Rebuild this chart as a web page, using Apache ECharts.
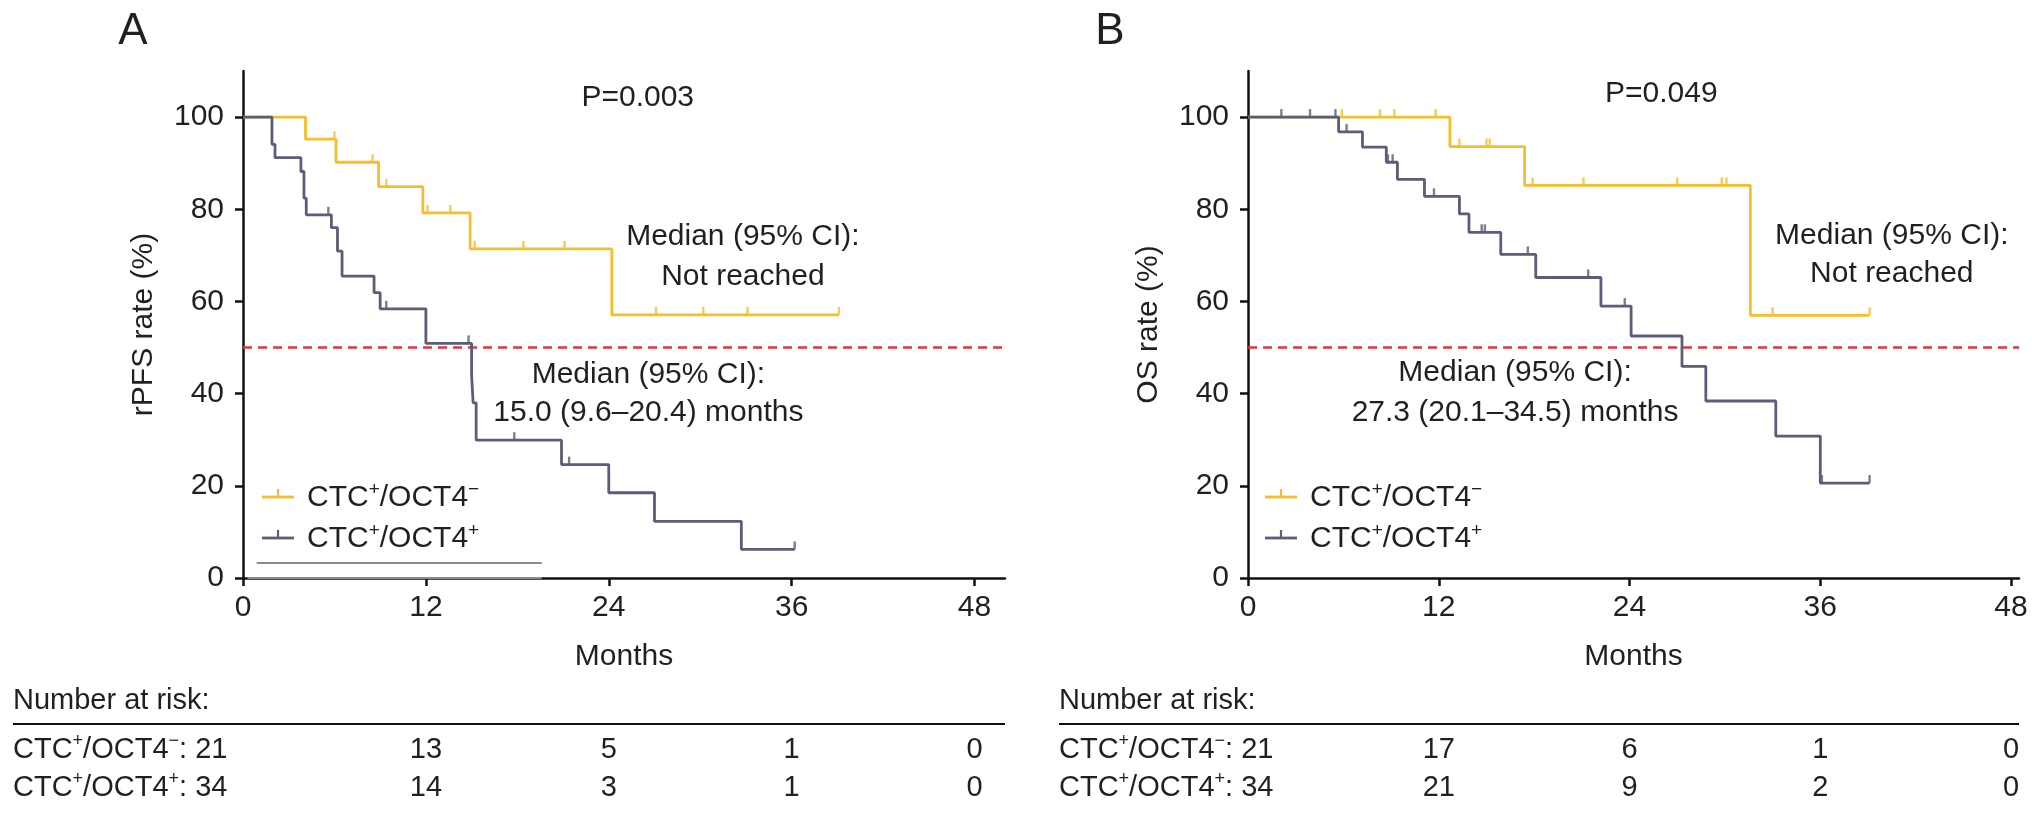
<!DOCTYPE html>
<html><head><meta charset="utf-8">
<script src="https://cdn.jsdelivr.net/npm/echarts@6/dist/echarts.min.js"></script>
<style>html,body{margin:0;padding:0;background:#fff}#c{width:2032px;height:819px}</style>
</head><body><div id="c"></div>
<script>
// ---- data ----
const monthTicks = [0, 12, 24, 36, 48];
const rateTicks = [0, 20, 40, 60, 80, 100];
const groupNames = ['CTC+/OCT4−', 'CTC+/OCT4+'];
// Panel A: rPFS  (time in months, survival % after event)
const pfsNegSteps = [[0,100],[4.1,95.2],[6.1,90.2],[8.9,84.9],[11.8,79.2],[14.9,71.4],[24.2,57.1],[39.1,57.1]];
const pfsNegCensor = [[6.0,95.2],[8.5,90.2],[9.4,84.9],[12.1,79.2],[13.6,79.2],[15.2,71.4],[18.4,71.4],[21.1,71.4],[27.1,57.1],[30.2,57.1],[33.1,57.1],[39.1,57.1]];
const pfsPosSteps = [[0,100],[1.9,94.1],[2.1,91.2],[3.8,88.2],[4.0,82.4],[4.15,78.8],[5.8,76.0],[6.2,70.9],[6.5,65.5],[8.6,61.9],[9.0,58.4],[12.0,50.9],[15.0,44.0],[15.1,38.0],[15.3,29.9],[20.9,24.6],[24.0,18.5],[27.0,12.3],[32.7,6.2],[36.2,6.2]];
const pfsPosCensor = [[5.6,78.8],[9.4,58.4],[14.8,50.9],[17.8,29.9],[21.4,24.6],[36.2,6.2]];
// Panel B: OS
const osNegSteps = [[0,100],[12.7,93.6],[17.4,85.2],[31.6,57.0],[39.1,57.0]];
const osNegCensor = [[5.9,100],[8.3,100],[9.2,100],[11.8,100],[13.3,93.6],[15.0,93.6],[15.2,93.6],[17.9,85.2],[21.1,85.2],[27.0,85.2],[29.8,85.2],[30.1,85.2],[33.0,57.0],[39.1,57.0]];
const osPosSteps = [[0,100],[5.7,96.8],[7.2,93.5],[8.7,90.2],[9.4,86.5],[11.1,82.8],[13.3,79.0],[13.9,75.0],[15.9,70.2],[18.1,65.2],[22.2,59.0],[24.1,52.5],[27.3,45.9],[28.8,38.4],[33.2,30.8],[36.0,20.6],[39.1,20.6]];
const osPosCensor = [[2.1,100],[3.9,100],[5.5,100],[6.2,96.8],[8.8,90.2],[9.1,90.2],[11.7,82.8],[14.7,75.0],[14.9,75.0],[17.6,70.2],[21.4,65.2],[23.7,59.0],[36.1,20.6],[39.1,20.6]];
// Number at risk
const riskNegA = [21, 13, 5, 1, 0];
const riskPosA = [34, 14, 3, 1, 0];
const riskNegB = [21, 17, 6, 1, 0];
const riskPosB = [34, 21, 9, 2, 0];
const medianLine = 50;

// ---- style ----
const FONT = '"Liberation Sans", Arial, Helvetica, sans-serif';
const YEL = '#F6BE2C', GRY = '#5A5E78', RED = '#E8333A', TXT = '#231f20';
const FS = 30, TFS = 29;

const chart = echarts.init(document.getElementById('c'));

function xAx(idx, max) {
  return {
    type: 'value', gridIndex: idx, min: 0, max: max,
    name: 'Months', nameLocation: 'middle', nameGap: 64,
    nameTextStyle: {fontFamily: FONT, fontSize: FS, color: TXT},
    axisLine: {lineStyle: {color: '#111', width: 2.5}},
    axisTick: {show: true, length: 8, lineStyle: {color: '#111', width: 2.5}, customValues: monthTicks},
    axisLabel: {fontFamily: FONT, fontSize: FS, color: TXT, margin: 15, customValues: monthTicks},
    splitLine: {show: false}
  };
}
function yAx(idx, name, gap) {
  return {
    type: 'value', gridIndex: idx, min: 0, max: 110,
    name: name, nameLocation: 'middle', nameGap: gap, nameRotate: 90,
    nameTextStyle: {fontFamily: FONT, fontSize: FS, color: TXT},
    axisLine: {show: true, lineStyle: {color: '#111', width: 2.5}},
    axisTick: {show: true, length: 8, lineStyle: {color: '#111', width: 2.5}, customValues: rateTicks},
    axisLabel: {fontFamily: FONT, fontSize: FS, color: TXT, margin: 19, customValues: rateTicks},
    splitLine: {show: false}
  };
}
function stepSeries(idx, data, color, extra) {
  return Object.assign({
    type: 'line', xAxisIndex: idx, yAxisIndex: idx, data: data, step: 'end',
    showSymbol: false, symbol: 'none', lineStyle: {color: color, width: 2.8}, z: 5, silent: true
  }, extra || {});
}
function censorSeries(idx, data, color) {
  return {
    type: 'scatter', xAxisIndex: idx, yAxisIndex: idx, data: data,
    symbol: 'rect', symbolSize: [2.4, 8], symbolOffset: [0, -4],
    itemStyle: {color: color}, z: 6, silent: true
  };
}
function medianMark() {
  return {
    symbol: 'none', silent: true, label: {show: false},
    lineStyle: {color: RED, type: [9, 6], width: 2.6},
    data: [{yAxis: medianLine}]
  };
}

const option = {
  animation: false,
  backgroundColor: '#fff',
  grid: [
    {left: 243, top: 71, width: 762, height: 507},
    {left: 1248, top: 71, width: 771, height: 507}
  ],
  xAxis: [xAx(0, 50), xAx(1, 48.5)],
  yAxis: [yAx(0, 'rPFS rate (%)', 84), yAx(1, 'OS rate (%)', 84)],
  series: [
    stepSeries(0, pfsNegSteps, YEL, {markLine: medianMark()}),
    stepSeries(0, pfsPosSteps, GRY, {markLine: {
      symbol: 'none', silent: true, label: {show: false},
      lineStyle: {color: '#8a8a8a', type: 'solid', width: 2},
      data: [[{coord: [0.9, 3.3]}, {coord: [19.6, 3.3]}], [{coord: [0.3, 0]}, {coord: [19.6, 0]}]]
    }}),
    censorSeries(0, pfsNegCensor, YEL),
    censorSeries(0, pfsPosCensor, GRY),
    stepSeries(1, osNegSteps, YEL, {markLine: medianMark()}),
    stepSeries(1, osPosSteps, GRY),
    censorSeries(1, osNegCensor, YEL),
    censorSeries(1, osPosCensor, GRY)
  ]
};
chart.setOption(option);

// ---- annotations positioned through the chart's own scales ----
function px(g, x, y) { return chart.convertToPixel({gridIndex: g}, [x, y]); }
function richFor(size) {
  return {
    n: {fontSize: size, fontFamily: FONT, fill: TXT, lineHeight: size + 6},
    s: {fontSize: Math.round(size * 0.62), fontFamily: FONT, fill: TXT, lineHeight: Math.round(size * 0.62), verticalAlign: 'top'}
  };
}
function groupRich(i) {
  return i === 0 ? '{n|CTC}{s|+}{n|/OCT4}{s|−}' : '{n|CTC}{s|+}{n|/OCT4}{s|+}';
}
const els = [];
function txt(x, y, s, align, size) {
  els.push({type: 'text', x: x, y: y, silent: true,
    style: {text: s, fontFamily: FONT, fontSize: size || FS, fill: TXT, align: align || 'center', verticalAlign: 'middle'}});
}
function dataTxt(g, mx, my, s) { const p = px(g, mx, my); txt(p[0], p[1], s, 'center'); }

// panel letters
txt(133, 32, 'A', 'center', 44);
txt(1110, 32, 'B', 'center', 44);
// A texts
dataTxt(0, 25.9, 104.3, 'P=0.003');
dataTxt(0, 32.8, 74.0, 'Median (95% CI):');
dataTxt(0, 32.8, 65.3, 'Not reached');
dataTxt(0, 26.6, 44.0, 'Median (95% CI):');
dataTxt(0, 26.6, 35.8, '15.0 (9.6–20.4) months');
// B texts
dataTxt(1, 26.0, 105.0, 'P=0.049');
dataTxt(1, 40.5, 74.3, 'Median (95% CI):');
dataTxt(1, 40.5, 66.0, 'Not reached');
dataTxt(1, 16.8, 44.5, 'Median (95% CI):');
dataTxt(1, 16.8, 35.9, '27.3 (20.1–34.5) months');

// legends
function legend(lx, ly) {
  [YEL, GRY].forEach(function (c, i) {
    const y = ly + i * 41;
    els.push({type: 'line', silent: true, shape: {x1: lx, y1: y, x2: lx + 32, y2: y}, style: {stroke: c, lineWidth: 2.8}});
    els.push({type: 'line', silent: true, shape: {x1: lx + 16, y1: y, x2: lx + 16, y2: y - 8}, style: {stroke: c, lineWidth: 2.2}});
    els.push({type: 'text', x: lx + 45, y: y + 1, silent: true,
      style: {text: groupRich(i), rich: richFor(FS), verticalAlign: 'middle', align: 'left'}});
  });
}
legend(262, 497);
legend(1265, 497);

// risk tables
function riskTable(g, left, right, neg, pos) {
  txt(left, 701, 'Number at risk:', 'left', TFS);
  els.push({type: 'line', silent: true, shape: {x1: left, y1: 724, x2: right, y2: 724}, style: {stroke: '#111', lineWidth: 2}});
  [neg, pos].forEach(function (row, i) {
    const y = 750 + i * 38;
    els.push({type: 'text', x: left, y: y, silent: true,
      style: {text: groupRich(i) + '{n|: ' + row[0] + '}', rich: richFor(TFS), verticalAlign: 'middle', align: 'left'}});
    for (let k = 1; k < monthTicks.length; k++) {
      const p = px(g, monthTicks[k], 0);
      txt(p[0], y, String(row[k]), 'center', TFS);
    }
  });
}
const endA = px(0, 50, 0)[0], endB = px(1, 48.5, 0)[0];
riskTable(0, 13, endA, riskNegA, riskPosA);
riskTable(1, 1059, endB, riskNegB, riskPosB);

chart.setOption({graphic: {elements: els}});
</script>
</body></html>
